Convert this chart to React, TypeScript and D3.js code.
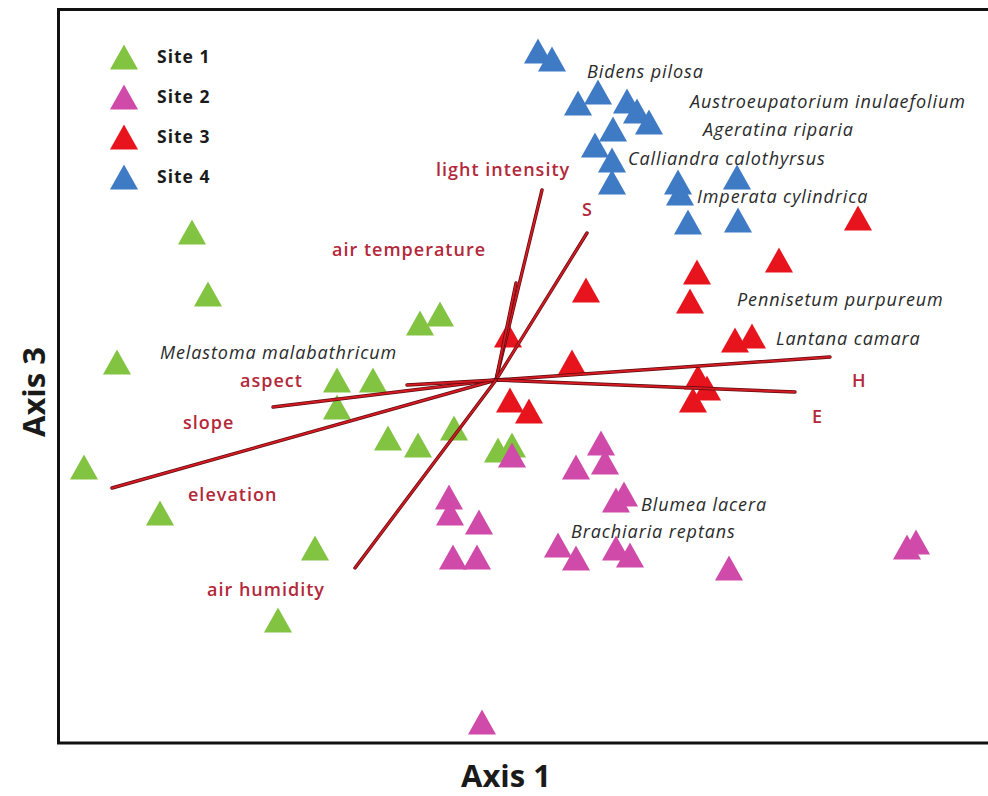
import * as d3 from 'd3'

// ordination scores (Axis 1, Axis 3)
const site1X = [-3.04, -2.88, -3.79, -0.76, -0.56, -1.59, -1.23, -1.59, -1.08, -0.78, -0.42, -4.12, -3.36, -1.81, -2.18, 0.02, 0.16]
const site1Y = [1.48, 0.86, 0.18, 0.57, 0.66, 0.0, 0.0, -0.27, -0.58, -0.65, -0.48, -0.87, -1.33, -1.68, -2.4, -0.7, -0.65]

const site2X = [0.16, 1.05, 1.09, 0.8, -0.47, -0.46, -0.17, -0.43, -0.19, 1.2, 1.28, 0.62, 0.8, 1.2, 1.34, 2.33, 4.11, 4.2, -0.14]
const site2Y = [-0.75, -0.63, -0.82, -0.87, -1.17, -1.33, -1.42, -1.77, -1.77, -1.2, -1.14, -1.65, -1.78, -1.68, -1.75, -1.88, -1.67, -1.62, -3.42]

const site3X = [3.62, 2.83, 2.01, 1.94, 0.9, 2.39, 2.56, 0.12, 0.76, 2.02, 2.11, 1.97, 0.14, 0.33]
const site3Y = [1.62, 1.2, 1.08, 0.79, 0.9, 0.4, 0.44, 0.45, 0.18, 0.03, -0.08, -0.2, -0.2, -0.31]

const site4X = [0.42, 0.56, 0.82, 1.02, 1.31, 1.41, 1.53, 1.17, 0.99, 1.16, 1.16, 1.82, 1.84, 2.41, 1.92, 2.42]
const site4Y = [3.29, 3.21, 2.77, 2.88, 2.79, 2.69, 2.58, 2.51, 2.35, 2.2, 1.98, 1.98, 1.87, 2.03, 1.58, 1.6]

const siteNames = ['Site 1', 'Site 2', 'Site 3', 'Site 4']
const siteColors = ['#82c341', '#cf4aa9', '#e8141d', '#3f7ac4']

// environmental vectors
const envNames = ['light intensity', 'air temperature', 'S', 'H', 'E', 'aspect', 'slope', 'elevation', 'air humidity']
const envX = [0.46, 0.2, 0.91, 3.34, 2.99, -2.23, -3.84, -0.89, -1.41]
const envY = [1.9, 0.97, 1.47, 0.23, -0.12, -0.27, -1.08, -0.05, -1.88]
const envLabelX = [-0.6, -1.64, 0.86, 3.56, 3.16, -2.56, -3.13, -3.08, -2.89]
const envLabelY = [2.04, 1.24, 1.64, -0.07, -0.43, -0.07, -0.49, -1.21, -2.16]

// species labels
const speciesNames = [
  'Bidens pilosa',
  'Austroeupatorium inulaefolium',
  'Ageratina riparia',
  'Calliandra calothyrsus',
  'Imperata cylindrica',
  'Pennisetum purpureum',
  'Lantana camara',
  'Melastoma malabathricum',
  'Blumea lacera',
  'Brachiaria reptans',
]
const speciesX = [0.91, 1.94, 2.07, 1.32, 2.01, 2.41, 2.8, -3.36, 1.45, 0.75]
const speciesY = [3.02, 2.72, 2.44, 2.15, 1.77, 0.74, 0.35, 0.21, -1.31, -1.58]

const W = 988
const H = 796

const tri = (w: number, h: number) => `M0,${-h / 2}L${w / 2},${h / 2}L${-w / 2},${h / 2}Z`

export default function App() {
  const x = d3.scaleLinear().domain([-4.38, 5]).range([58, 996])
  const y = d3.scaleLinear().domain([-3.63, 3.71]).range([743, 9])

  const sites = [
    d3.zip(site1X, site1Y),
    d3.zip(site2X, site2Y),
    d3.zip(site3X, site3Y),
    d3.zip(site4X, site4Y),
  ]
  const marker = tri(28, 25)
  const line = d3.line()

  const labelFont = '"Open Sans", "DejaVu Sans", sans-serif'

  return (
    <svg width={W} height={H} style={{ position: 'absolute', left: 0, top: 0, background: '#fff' }}>
      <rect x={0} y={0} width={W} height={H} fill="#fff" />

      {/* points */}
      {sites.map((pts, i) => (
        <g key={i} fill={siteColors[i]}>
          {pts.map((p, j) => (
            <path key={j} d={marker} transform={`translate(${x(p[0])},${y(p[1])})`} />
          ))}
        </g>
      ))}

      {/* environmental vectors */}
      <g fill="none" strokeLinecap="round">
        {envNames.map((n, i) => {
          const d = line([[x(0), y(0)], [x(envX[i]), y(envY[i])]]) || ''
          return (
            <g key={n}>
              <path d={d} stroke="#5c0a0e" strokeWidth={3.4} />
              <path d={d} stroke="#d41a22" strokeWidth={1.9} />
            </g>
          )
        })}
      </g>

      {/* vector labels */}
      <g fontFamily={labelFont} fontWeight={600} fontSize={18} letterSpacing={1} fill="#b3283a">
        {envNames.map((n, i) => (
          <text key={n} x={x(envLabelX[i])} y={y(envLabelY[i])}>{n}</text>
        ))}
      </g>

      {/* species labels */}
      <g fontFamily={labelFont} fontStyle="italic" fontSize={18} letterSpacing={0.9} fill="#2a2a2a">
        {speciesNames.map((n, i) => (
          <text key={n} x={x(speciesX[i])} y={y(speciesY[i])}>{n}</text>
        ))}
      </g>

      {/* legend */}
      <g fontFamily={labelFont} fontWeight={700} fontSize={17.5} letterSpacing={1} fill="#1a1a1a">
        {siteNames.map((n, i) => (
          <g key={n} transform={`translate(124,${57 + i * 40})`}>
            <path d={marker} fill={siteColors[i]} />
            <text x={33} y={6}>{n}</text>
          </g>
        ))}
      </g>

      {/* frame */}
      <rect x={58.5} y={9.5} width={960} height={733.5} fill="none" stroke="#111" strokeWidth={3} />

      {/* axis titles */}
      <text x={506} y={787} textAnchor="middle" fontFamily={labelFont} fontWeight={700} fontSize={31} fill="#1a1a1a">
        Axis 1
      </text>
      <text
        transform="translate(45,392) rotate(-90)"
        textAnchor="middle"
        fontFamily={labelFont}
        fontWeight={700}
        fontSize={31}
        fill="#1a1a1a"
      >
        Axis 3
      </text>
    </svg>
  )
}
